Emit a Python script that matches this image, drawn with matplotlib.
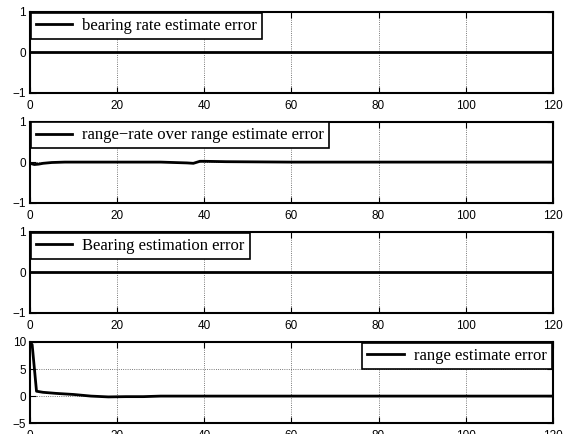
import matplotlib
matplotlib.use("Agg")
import matplotlib.pyplot as plt

# values
t_flat = [0, 120]
bearing_rate_err = [0, 0]
bearing_err = [0, 0]

t_rr = [0, 1, 2, 3, 5, 8, 20, 30, 36, 37.5, 39, 40, 45, 60, 120]
range_rate_err = [-0.03, -0.06, -0.05, -0.03, -0.01, 0.0, 0.0, 0.0, -0.02, -0.03, 0.02, 0.02, 0.01, 0.0, 0.0]

t_r = [0, 0.5, 1.5, 3, 6, 10, 14, 18, 22, 26, 30, 40, 120]
range_err = [10, 9.5, 0.9, 0.7, 0.5, 0.3, 0.0, -0.15, -0.1, -0.1, 0.0, 0.0, 0.0]

panels = [
    (t_flat, bearing_rate_err, "bearing rate estimate error", (-1, 1), [-1, 0, 1], "upper left"),
    (t_rr, range_rate_err, "range\u2212rate over range estimate error", (-1, 1), [-1, 0, 1], "upper left"),
    (t_flat, bearing_err, "Bearing estimation error", (-1, 1), [-1, 0, 1], "upper left"),
    (t_r, range_err, "range estimate error", (-5, 10), [-5, 0, 5, 10], "upper right"),
]
bottoms = [0.786, 0.533, 0.279, 0.025]

fig = plt.figure(figsize=(5.72, 4.34), dpi=100)
plt.rcParams["font.family"] = "Liberation Sans"

for (t, y, label, ylim, yticks, loc), b in zip(panels, bottoms):
    ax = fig.add_axes([0.0524, b, 0.914, 0.187])
    ax.plot(t, y, color="black", lw=2, label=label)
    ax.set_xlim(0, 120)
    ax.set_ylim(*ylim)
    ax.set_xticks([0, 20, 40, 60, 80, 100, 120])
    ax.set_yticks(yticks)
    ax.set_yticklabels([str(v).replace("-", "\u2212") for v in yticks])
    ax.tick_params(direction="in", length=4, width=0.8, labelsize=8.5, top=True, right=True)
    ax.tick_params(axis="x", pad=5)
    ax.tick_params(axis="y", pad=3)
    ax.grid(True, ls=":", color="0.3", lw=0.6)
    for s in ax.spines.values():
        s.set_linewidth(1.5)
    leg = ax.legend(loc=loc, prop={"family": "Liberation Serif", "size": 12},
                    fancybox=False, framealpha=1, edgecolor="black",
                    borderaxespad=0.05, borderpad=0.3, handlelength=2.2,
                    handletextpad=0.6)
    leg.get_frame().set_linewidth(1.2)

fig.savefig("out.png", dpi=100)
